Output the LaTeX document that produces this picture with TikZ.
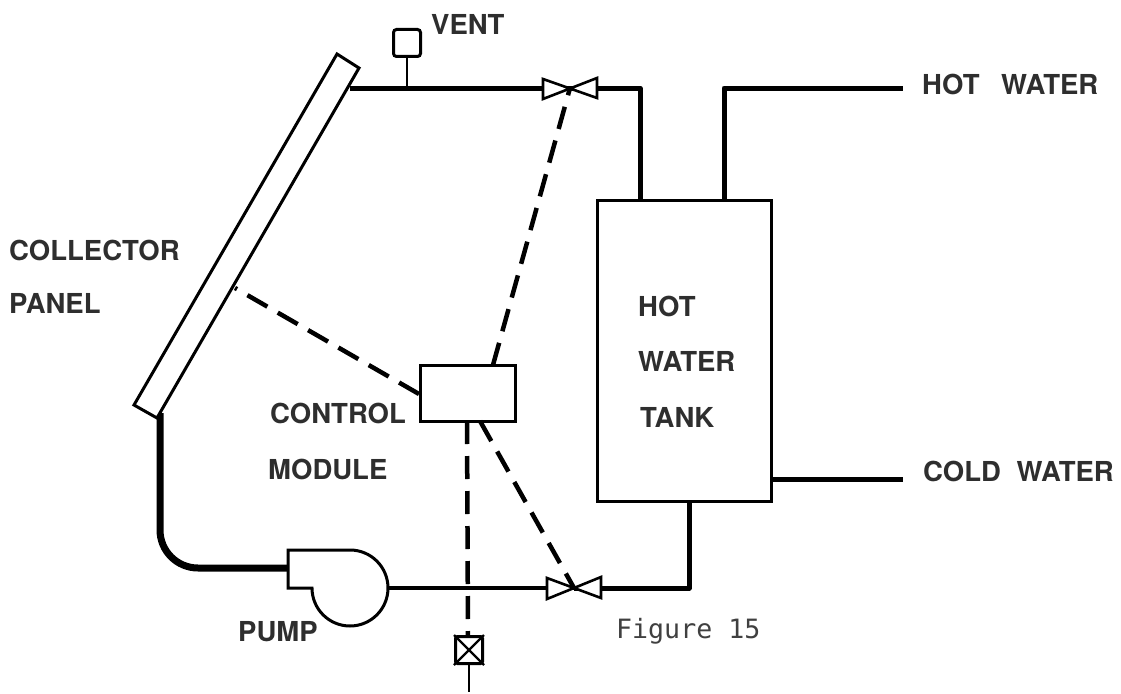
\documentclass[tikz,border=0pt]{standalone}
\usepackage{fontspec}
\setmainfont{TeX Gyre Heros}
\newfontfamily\figfont{DejaVu Sans Mono}
\usetikzlibrary{calc}
\tikzset{
 pipe/.style={line width=5pt,line join=round},
 thick pipe/.style={line width=7pt,line join=round},
 thin pipe/.style={line width=4.5pt},
 ctl/.style={line width=4.5pt,dash pattern=on 23pt off 12pt},
 outl/.style={line width=3pt,line join=miter,fill=white},
 valve/.style={line width=2.6pt,line join=miter,fill=white},
 lab/.style={font=\fontsize{27.5}{30}\selectfont\bfseries,inner sep=0pt,anchor=west,text=black!82},
}
\begin{document}
\begin{tikzpicture}[x=1pt,y=-1pt]
\useasboundingbox (0,0) rectangle (1121,693);
% named points
\coordinate (vtop) at (407,88);
\coordinate (v1) at (570,88);
\coordinate (v2) at (574,588);
\coordinate (tankHotIn) at (640,200);
\coordinate (tankHotOut) at (724,200);
\coordinate (tankColdOut) at (771,479);
\coordinate (tankColdIn) at (689,501);
\coordinate (hotEnd) at (903,88);
\coordinate (coldEnd) at (903,479);
\coordinate (panelTop) at (350,88);
\coordinate (panelBot) at (160,413);
\coordinate (panelMid) at (235,288);
\coordinate (pumpIn) at (288,568);
\coordinate (pumpOut) at (388,588);
% pipes
\draw[pipe] (panelTop) -- (v1);
\draw[pipe] (v1) -- (640,88) -- (tankHotIn);
\draw[pipe] (tankHotOut) -- (724,88) -- (hotEnd);
\draw[pipe] (tankColdOut) -- (coldEnd);
\draw[pipe] (tankColdIn) -- (689,588) -- (v2);
\draw[thin pipe] (pumpOut) -- (v2);
\draw[thick pipe] (panelBot) -- (160,530) arc[start angle=180,end angle=90,radius=38] -- (pumpIn);
% panel
\draw[outl] (337,54) -- (359,68) -- (157,418) -- (134,405) -- cycle;
% tank
\node[draw,line width=3pt,fill=white,minimum width=174pt,minimum height=301pt,inner sep=0pt] (tank) at (684,351) {};
% control
\node[draw,line width=3pt,fill=white,minimum width=95pt,minimum height=56pt,inner sep=0pt] (ctrl) at (468,393) {};
% valves
\draw[valve] (543,79) -- (597,98) -- (597,78) -- (543,99) -- cycle;
\draw[valve] (547,578) -- (601,598) -- (601,577) -- (547,599) -- cycle;
% control lines
\draw[ctl] (493,365) -- (v1);
\draw[ctl] (419,394) -- (panelMid);
\draw[ctl] (480,421) -- (v2);
\draw[ctl] (467,421) -- (468,637);
% vent
\draw[line width=2.4pt] (vtop) -- (407,58);
\node[draw,line width=3pt,rounded corners=3pt,minimum size=27pt,inner sep=0pt,fill=white] (vent) at (407,43) {};
% pump
\draw[outl] (288,550) -- (350,550) arc[start angle=-90,end angle=180,radius=38] -- (288,588) -- cycle;
% solenoid
\node[draw,line width=3pt,rounded corners=2pt,minimum size=27pt,inner sep=0pt,fill=white] (sol) at (469,650) {};
\draw[line width=2.4pt] (sol.north west) -- (sol.south east) (sol.north east) -- (sol.south west);
\draw[line width=1.6pt] (sol.south) -- (469,692);
% labels
\node[lab] at (431,24) {VENT};
\node[lab] at (9,250) {COLLECTOR};
\node[lab] at (9,303) {PANEL};
\node[lab] at (922,84) {HOT\hspace{0.78em}WATER};
\node[lab] at (923,471) {COLD\hspace{0.57em}WATER};
\node[lab] at (638,306) {HOT};
\node[lab] at (638,361) {WATER};
\node[lab] at (640,417) {TANK};
\node[lab] at (270,413) {CONTROL};
\node[lab] at (268,469) {MODULE};
\node[lab] at (238,632) {PUMP};
\node[inner sep=0pt,anchor=west,font=\figfont\fontsize{26.6}{28}\selectfont,text=black!75] at (616,631) {Figure 15};
\end{tikzpicture}
\end{document}
